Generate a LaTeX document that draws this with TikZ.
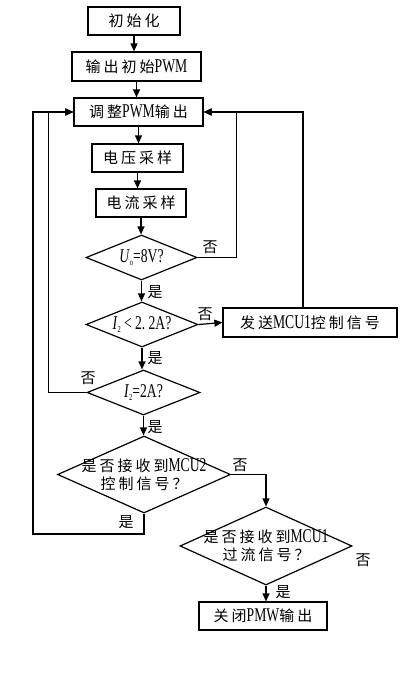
\documentclass[tikz,border=0pt]{standalone}
\usepackage{fontspec}
\setmainfont{Liberation Serif}[FakeStretch=0.7, Scale=1.3]
\newfontfamily\cjk{Noto Sans CJK SC}[LetterSpace=20]
\usetikzlibrary{shapes.geometric,arrows.meta}
\newcommand\zh[1]{{\cjk #1}}
\newcommand\sub[1]{\raisebox{-2.5pt}{\fontsize{7}{8}\selectfont #1}}
\begin{document}
\begin{tikzpicture}[x=1pt,y=-1pt, line width=1.2pt,
  box/.style={draw, rectangle, inner sep=0pt, font=\fontsize{15}{18}\selectfont},
  dia/.style={draw, diamond, inner sep=0pt},
  dtext/.style={font=\fontsize{15}{18}\selectfont, align=center, inner sep=0pt},
  arr/.style={-{Triangle[length=8pt,width=7pt]}},
  lab/.style={font=\fontsize{15}{17}\selectfont\cjk, inner sep=0pt}]
\useasboundingbox (0,0) rectangle (410,685);
\node[box, minimum width=92pt, minimum height=28pt] (b1) at (134,21) {\zh{初始化}};
\node[box, minimum width=129pt, minimum height=29pt] (b2) at (136.5,66.5) {\zh{输出初始}PWM};
\node[box, minimum width=129pt, minimum height=28pt] (b3) at (138.5,112) {\zh{调整}PWM\zh{输出}};
\node[box, minimum width=91pt, minimum height=28pt] (b4) at (137.5,158) {\zh{电压采样}};
\node[box, minimum width=90pt, minimum height=28pt] (b5) at (141,203) {\zh{电流采样}};
\node[dia, minimum width=111pt, minimum height=45pt, label={[dtext]center:{\textit{U}\sub{o}=8V?}}] (d1) at (141.5,257.5) {};
\node[dia, minimum width=112pt, minimum height=45pt, label={[dtext]center:{\textit{I}\sub{2}\,<\,2.\,2A?}}] (d2) at (142,324.5) {};
\node[box, minimum width=174pt, minimum height=29pt] (b6) at (310,322.5) {\zh{发送}MCU1\zh{控制信号}};
\node[dia, minimum width=113pt, minimum height=45pt, label={[dtext]center:{\textit{I}\sub{2}=2A?}}] (d3) at (143.5,392.5) {};
\node[dia, minimum width=173pt, minimum height=77pt, label={[dtext]center:{\zh{是否接收到}MCU2\\\zh{控制信号？}}}] (d4) at (144,474.5) {};
\node[dia, minimum width=172pt, minimum height=78pt, label={[dtext]center:{\zh{是否接收到}MCU1\\\zh{过流信号？}}}] (d5) at (266,546) {};
\node[box, minimum width=128pt, minimum height=28pt] (b7) at (263,616) {\zh{关闭}PMW\zh{输出}};

\draw[arr] (b1.south) -- (b1.south |- b2.north);
\draw[arr] (b2.south) -- (b2.south |- b3.north);
\draw[arr] (b3.south) -- (b3.south |- b4.north);
\draw[arr] (b4.south) -- (b4.south |- b5.north);
\draw[arr] (b5.south) -- (b5.south |- d1.north);
\draw[arr] (d1.south) -- (d1.south |- d2.north);
\draw[arr] (d2.south) -- (d2.south |- d3.north);
\draw[arr] (d3.south) -- (d3.south |- d4.north);
\draw[arr] (d2.east) -- (b6.west);
\draw[arr] (d1.east) -- ++(39,0) |- (b3.east);
\draw[arr] ([xshift=-7pt]b6.north) |- (b3.east);
\draw[arr] (d3.west) -- ++(-38,0) |- (b3.west);
\draw[arr] (d4.south) |- (33,534) |- (b3.west);
\draw[arr] (d4.east) -| (d5.north);
\draw[arr] (d5.south) -- (d5.south |- b7.north);

\node[lab] (n1) at (210,247) {否};
\node[lab] (y1) at (155,292) {是};
\node[lab] (n2) at (205,314) {否};
\node[lab] (y2) at (155,358) {是};
\node[lab] (n3) at (88,378) {否};
\node[lab] (y3) at (155,427) {是};
\node[lab] (n4) at (240,465) {否};
\node[lab] (y4) at (126,522) {是};
\node[lab] (n5) at (363,560) {否};
\node[lab] (y5) at (283,592) {是};
\end{tikzpicture}
\end{document}
